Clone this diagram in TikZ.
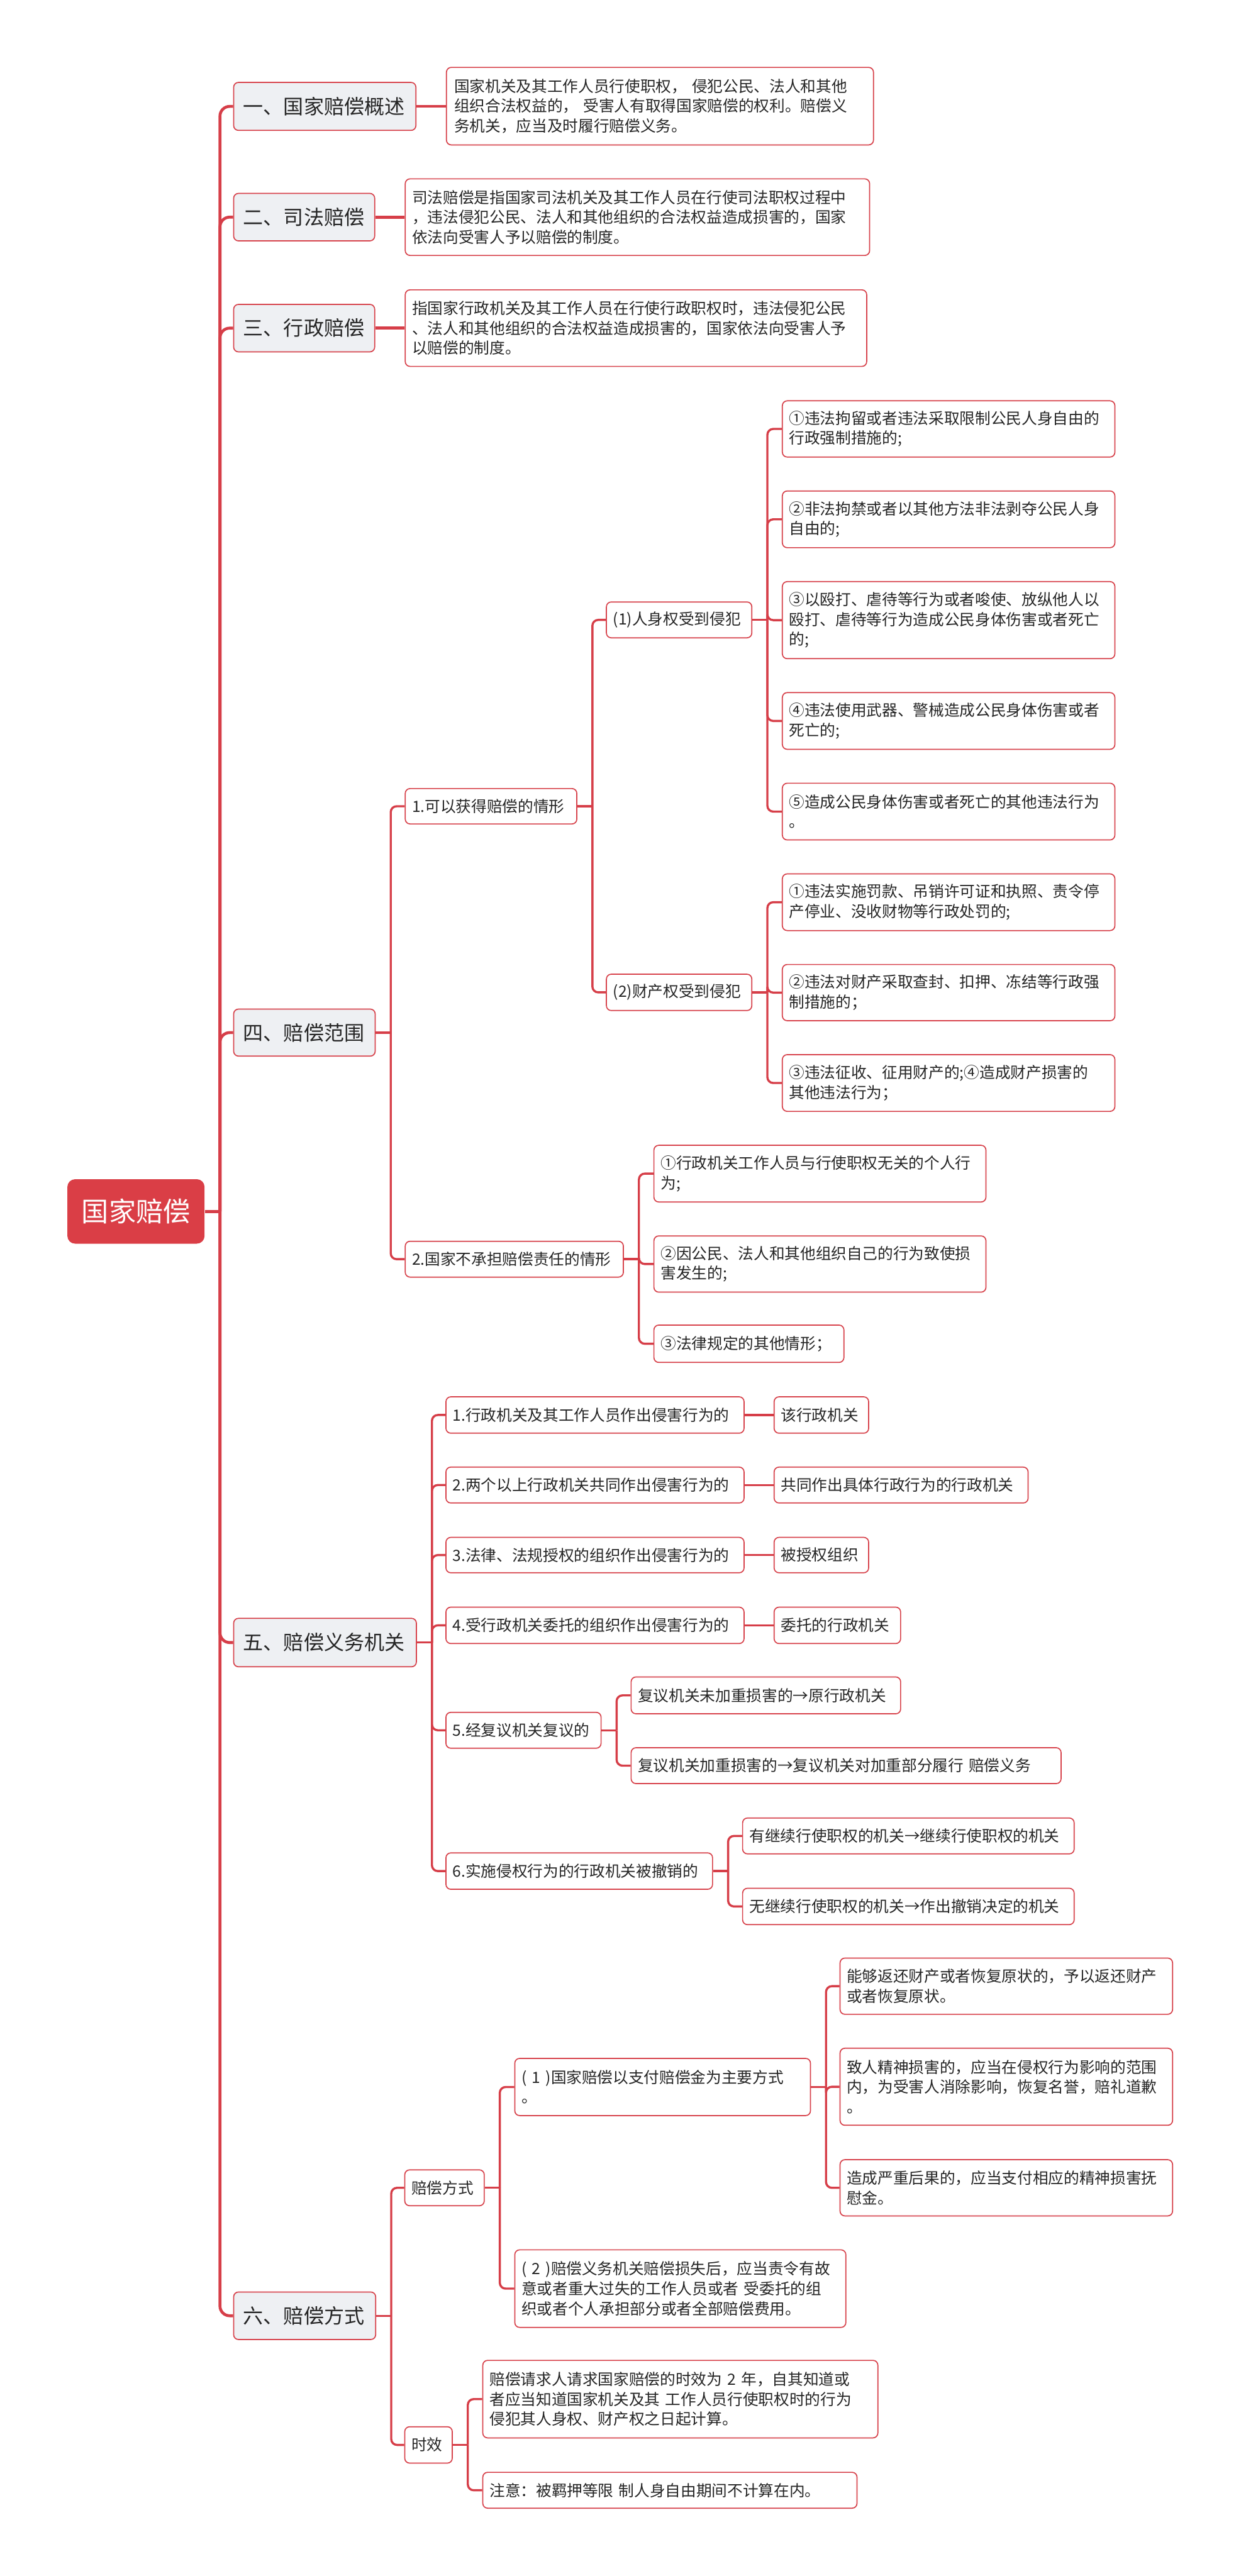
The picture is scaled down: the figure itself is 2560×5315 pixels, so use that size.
\documentclass[tikz,border=0pt]{standalone}
\usepackage{fontspec}
\setmainfont{Noto Sans CJK SC}
\definecolor{boxred}{HTML}{D7434C}
\definecolor{linered}{HTML}{D63E48}
\definecolor{rootred}{HTML}{DA3E46}
\definecolor{lvgray}{HTML}{EEF0F3}
\tikzset{
  base/.style={draw=boxred, line width=0.55pt, rounded corners=2.5pt, align=left, inner ysep=0pt, fill=white, text=black!85, font=\fontsize{8}{10.25}\selectfont},
  lvone/.style={base, fill=lvgray, font=\fontsize{10.4}{12.5}\selectfont},
  rootbox/.style={fill=rootred, draw=none, rounded corners=4pt, text=white, align=center, inner ysep=0pt, font=\fontsize{14}{16}\selectfont},
  trunk/.style={draw=linered, line width=1.5pt, rounded corners=5pt},
  conn/.style={draw=linered, line width=1.1pt, rounded corners=3pt},
}
\newcommand{\bx}[8]{%
  \pgfmathsetmacro{\bxw}{(#4-#2)*0.25}%
  \pgfmathsetmacro{\bxh}{(#5-#3)*0.25}%
  \pgfmathsetmacro{\bxt}{(#4-#2-2*#7)*0.25}%
  \pgfmathsetmacro{\bxp}{#7*0.25}%
  \node[#6, inner xsep=\bxp pt, minimum width=\bxw pt, minimum height=\bxh pt, text width=\bxt pt] (#1) at ({(#2+#4)/2},{(#3+#5)/2}) {#8};%
}
\newcommand{\fan}[3]{%
  \draw[#1] (#2.east) -- ++(7.75pt,0);
  \foreach \cc in {#3} {\draw[#1] ([xshift=7.75pt]#2.east) |- (\cc.west);}
}
\newcommand{\straight}[3]{\draw[#1] (#2.east) -- (#2.east -| #3.west);}
\begin{document}
\begin{tikzpicture}[x=0.25pt,y=-0.25pt]
\useasboundingbox (0,0) rectangle (2560,5315);
% root
\bx{root}{139}{2433}{422}{2566}{rootbox}{0}{国家赔偿}
% level 1
\bx{n1}{482}{170}{858}{269}{lvone}{20}{一、国家赔偿概述}
\bx{n2}{482}{399}{773}{497}{lvone}{20}{二、司法赔偿}
\bx{n3}{482}{628}{773}{726}{lvone}{20}{三、行政赔偿}
\bx{n4}{482}{2082}{774}{2179}{lvone}{20}{四、赔偿范围}
\bx{n5}{482}{3339}{859}{3439}{lvone}{20}{五、赔偿义务机关}
\bx{n6}{482}{4729}{775}{4827}{lvone}{20}{六、赔偿方式}
% descriptions
\bx{d1}{921}{139}{1802}{299}{base}{16}{国家机关及其工作人员行使职权，~侵犯公民、法人和其他\\组织合法权益的，~受害人有取得国家赔偿的权利。赔偿义\\务机关，应当及时履行赔偿义务。}
\bx{d2}{836}{369}{1794}{527}{base}{14}{司法赔偿是指国家司法机关及其工作人员在行使司法职权过程中\\，违法侵犯公民、法人和其他组织的合法权益造成损害的，国家\\依法向受害人予以赔偿的制度。}
\bx{d3}{836}{598}{1788}{756}{base}{14}{指国家行政机关及其工作人员在行使行政职权时，违法侵犯公民\\、法人和其他组织的合法权益造成损害的，国家依法向受害人予\\以赔偿的制度。}
% level 4
\bx{a1}{836}{1627}{1190}{1700}{base}{14}{1.可以获得赔偿的情形}
\bx{a2}{836}{2561}{1286}{2635}{base}{14}{2.国家不承担赔偿责任的情形}
\bx{b1}{1251}{1242}{1551}{1316}{base}{14}{(1)人身权受到侵犯}
\bx{b2}{1251}{2010}{1551}{2085}{base}{14}{(2)财产权受到侵犯}
\bx{c1}{1614}{827}{2300}{943}{base}{14}{①违法拘留或者违法采取限制公民人身自由的\\行政强制措施的;}
\bx{c2}{1614}{1013}{2300}{1130}{base}{14}{②非法拘禁或者以其他方法非法剥夺公民人身\\自由的;}
\bx{c3}{1614}{1200}{2300}{1359}{base}{14}{③以殴打、虐待等行为或者唆使、放纵他人以\\殴打、虐待等行为造成公民身体伤害或者死亡\\的;}
\bx{c4}{1614}{1429}{2300}{1546}{base}{14}{④违法使用武器、警械造成公民身体伤害或者\\死亡的;}
\bx{c5}{1614}{1616}{2300}{1733}{base}{14}{⑤造成公民身体伤害或者死亡的其他违法行为\\。}
\bx{e1}{1614}{1803}{2300}{1920}{base}{14}{①违法实施罚款、吊销许可证和执照、责令停\\产停业、没收财物等行政处罚的;}
\bx{e2}{1614}{1990}{2300}{2106}{base}{14}{②违法对财产采取查封、扣押、冻结等行政强\\制措施的；}
\bx{e3}{1614}{2176}{2300}{2293}{base}{14}{③违法征收、征用财产的;④造成财产损害的\\其他违法行为；}
\bx{f1}{1349}{2363}{2034}{2480}{base}{14}{①行政机关工作人员与行使职权无关的个人行\\为;}
\bx{f2}{1349}{2550}{2034}{2666}{base}{14}{②因公民、法人和其他组织自己的行为致使损\\害发生的;}
\bx{f3}{1349}{2734}{1741}{2811}{base}{14}{③法律规定的其他情形；}
% level 5
\bx{g1}{920}{2882}{1535}{2957}{base}{14}{1.行政机关及其工作人员作出侵害行为的}
\bx{g2}{920}{3027}{1535}{3101}{base}{14}{2.两个以上行政机关共同作出侵害行为的}
\bx{g3}{920}{3172}{1535}{3245}{base}{14}{3.法律、法规授权的组织作出侵害行为的}
\bx{g4}{920}{3316}{1535}{3391}{base}{14}{4.受行政机关委托的组织作出侵害行为的}
\bx{g5}{920}{3533}{1240}{3607}{base}{14}{5.经复议机关复议的}
\bx{g6}{920}{3823}{1470}{3898}{base}{14}{6.实施侵权行为的行政机关被撤销的}
\bx{h1}{1597}{2882}{1792}{2957}{base}{14}{该行政机关}
\bx{h2}{1597}{3027}{2121}{3101}{base}{14}{共同作出具体行政行为的行政机关}
\bx{h3}{1597}{3172}{1792}{3245}{base}{14}{被授权组织}
\bx{h4}{1597}{3316}{1858}{3391}{base}{14}{委托的行政机关}
\bx{i1}{1302}{3460}{1858}{3536}{base}{14}{复议机关未加重损害的→原行政机关}
\bx{i2}{1302}{3606}{2189}{3680}{base}{14}{复议机关加重损害的→复议机关对加重部分履行~赔偿义务}
\bx{j1}{1532}{3751}{2216}{3825}{base}{14}{有继续行使职权的机关→继续行使职权的机关}
\bx{j2}{1532}{3896}{2216}{3971}{base}{14}{无继续行使职权的机关→作出撤销决定的机关}
% level 6
\bx{k1}{835}{4477}{999}{4551}{base}{14}{赔偿方式}
\bx{k2}{835}{5007}{933}{5082}{base}{14}{时效}
\bx{l1}{1062}{4247}{1672}{4365}{base}{14}{(~1~)国家赔偿以支付赔偿金为主要方式\\。}
\bx{l2}{1062}{4642}{1745}{4802}{base}{14}{(~2~)赔偿义务机关赔偿损失后，应当责令有故\\意或者重大过失的工作人员或者~受委托的组\\织或者个人承担部分或者全部赔偿费用。}
\bx{m1}{1733}{4040}{2419}{4156}{base}{14}{能够返还财产或者恢复原状的，予以返还财产\\或者恢复原状。}
\bx{m2}{1733}{4226}{2419}{4385}{base}{14}{致人精神损害的，应当在侵权行为影响的范围\\内，为受害人消除影响，恢复名誉，赔礼道歉\\。}
\bx{m3}{1733}{4456}{2419}{4572}{base}{14}{造成严重后果的，应当支付相应的精神损害抚\\慰金。}
\bx{o1}{996}{4870}{1811}{5030}{base}{14}{赔偿请求人请求国家赔偿的时效为~2~年，自其知道或\\者应当知道国家机关及其~工作人员行使职权时的行为\\侵犯其人身权、财产权之日起计算。}
\bx{o2}{996}{5101}{1768}{5175}{base}{14}{注意：被羁押等限~制人身自由期间不计算在内。}
% connectors
\fan{trunk}{root}{n1,n2,n3,n4,n5,n6}
\straight{trunk}{n1}{d1}
\straight{trunk}{n2}{d2}
\straight{trunk}{n3}{d3}
\fan{conn}{n4}{a1,a2}
\fan{conn}{a1}{b1,b2}
\fan{conn}{b1}{c1,c2,c3,c4,c5}
\fan{conn}{b2}{e1,e2,e3}
\fan{conn}{a2}{f1,f2,f3}
\fan{conn}{n5}{g1,g2,g3,g4,g5,g6}
\straight{conn}{g1}{h1}
\straight{conn}{g2}{h2}
\straight{conn}{g3}{h3}
\straight{conn}{g4}{h4}
\fan{conn}{g5}{i1,i2}
\fan{conn}{g6}{j1,j2}
\fan{conn}{n6}{k1,k2}
\fan{conn}{k1}{l1,l2}
\fan{conn}{l1}{m1,m2,m3}
\fan{conn}{k2}{o1,o2}
\end{tikzpicture}
\end{document}
